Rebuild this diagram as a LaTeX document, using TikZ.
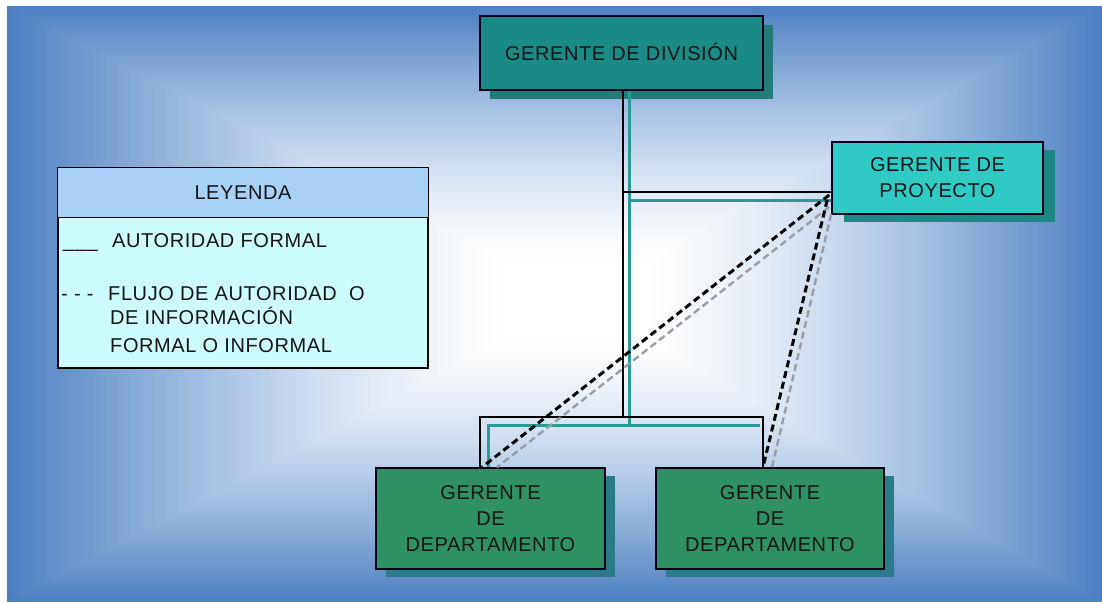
\documentclass[tikz,border=0pt]{standalone}
\usepackage{fontspec}
\setmainfont{Liberation Sans}[LetterSpace=3]
\usetikzlibrary{shadows,calc}
\definecolor{bgblue}{HTML}{4B80C3}
\definecolor{divfill}{HTML}{1B8A84}
\definecolor{divshadow}{HTML}{237C78}
\definecolor{projfill}{HTML}{2FCAC3}
\definecolor{projshadow}{HTML}{1E8984}
\definecolor{depfill}{HTML}{2E9163}
\definecolor{depshadow}{HTML}{2A7C88}
\definecolor{leghead}{HTML}{A9D0F6}
\definecolor{legbody}{HTML}{CDFCFC}
\definecolor{tealline}{HTML}{2A9A92}
\definecolor{grayline}{HTML}{9C9CA6}
\definecolor{textdark}{HTML}{151515}
\begin{document}
\begin{tikzpicture}[x=1pt,y=-1pt,
  every node/.style={font=\fontsize{20}{26}\selectfont, text=textdark},
  box/.style={draw=black!90!blue, line width=1.6pt, align=center, inner sep=0pt},
  divbox/.style={box, fill=divfill, minimum width=283pt, minimum height=74pt,
     drop shadow={shadow xshift=10pt, shadow yshift=-9pt, fill=divshadow, opacity=1}},
  projbox/.style={box, fill=projfill, minimum width=211pt, minimum height=72pt,
     drop shadow={shadow xshift=12pt, shadow yshift=-8pt, fill=projshadow, opacity=1}},
  depbox/.style={box, fill=depfill, minimum width=229pt, minimum height=101pt,
     drop shadow={shadow xshift=10pt, shadow yshift=-8pt, fill=depshadow, opacity=1}},
  formal/.style={draw=black, line width=1.8pt},
  formalteal/.style={draw=tealline, line width=3pt},
  informal/.style={draw=black, line width=3pt, dash pattern=on 7pt off 4pt},
  informalgray/.style={draw=grayline, line width=2.4pt, dash pattern=on 7pt off 4pt},
  legtext/.style={anchor=base west, inner sep=0pt}
]
\useasboundingbox (0,0) rectangle (1102,602);
\fill[white] (0,0) rectangle (1102,602);
% background rectangular gradient
\foreach \i in {0,...,119}{
  \pgfmathsetmacro\f{1-\i/120}
  \pgfmathsetmacro\g{max(0,(\f-0.12)/0.88)}
  \pgfmathsetmacro\m{100*(\g^1.4)}
  \fill[bgblue!\m!white] ({580-\f*573},{300-\f*294}) rectangle ({580+\f*522},{300+\f*302});
}

% boxes
\node[divbox] (div) at (621.5,53) {\raisebox{3pt}{GERENTE DE DIVISIÓN}};
\node[projbox] (proj) at (937.5,178) {GERENTE DE\\PROYECTO};
\node[depbox] (depL) at (490.5,518.5) {GERENTE\\DE\\DEPARTAMENTO};
\node[depbox, minimum width=228pt] (depR) at (770,518.5) {GERENTE\\DE\\DEPARTAMENTO};

% junction coordinates
\coordinate (tb) at (623,417);
\coordinate (pb) at (623,192);
\coordinate (tt) at (629,425);
\coordinate (pt) at (629,200);

% teal (shadow) lines of formal authority
\draw[formalteal] (div.south -| tt) -- (tt);
\draw[formalteal] (pt) -- (proj.west |- pt);
\draw[formalteal] (depL.north -| 488,0) -- (488,425) -- (760,425);

% black formal authority lines
\draw[formal] (div.south -| tb) -- (tb);
\draw[formal] (pb) -- (proj.west |- pb);
\draw[formal] (depL.north -| 480,0) |- (tb) -| (depR.north -| 763,0);

% informal flows
\draw[informalgray] ($(proj.west)+(-2,29)$) -- (depL.north -| 497,0);
\draw[informalgray] ($(proj.west)+(0,36)$) -- (depR.north -| 772,0);
\draw[informal] ($(proj.west)+(-2,17)$) -- (depL.north -| 482,0);
\draw[informal] ($(proj.west)+(-4,22)$) -- (depR.north -| 763,0);

% legend
\node[draw=black, line width=1.4pt, fill=legbody, minimum width=370pt, minimum height=200pt, inner sep=0pt] (legend) at (243,268) {};
\fill[leghead] (legend.north west) rectangle ($(legend.north east)+(0,50)$);
\draw[black, line width=1.4pt] (legend.north west) rectangle (legend.south east);
\draw[black, line width=1.4pt] ($(legend.north west)+(0,50)$) -- ($(legend.north east)+(0,50)$);
\node[inner sep=0pt] (leghead) at (243,193) {LEYENDA};
\node[legtext] (l1) at (63,247) {\makebox[49pt][l]{\_\_\_}AUTORIDAD FORMAL};
\node[legtext] (l2) at (61,300) {\makebox[47pt][l]{- - -}FLUJO DE AUTORIDAD\ \ O};
\node[legtext] (l3) at (110,324) {DE INFORMACIÓN};
\node[legtext] (l4) at (110,352) {FORMAL O INFORMAL};
\end{tikzpicture}
\end{document}
